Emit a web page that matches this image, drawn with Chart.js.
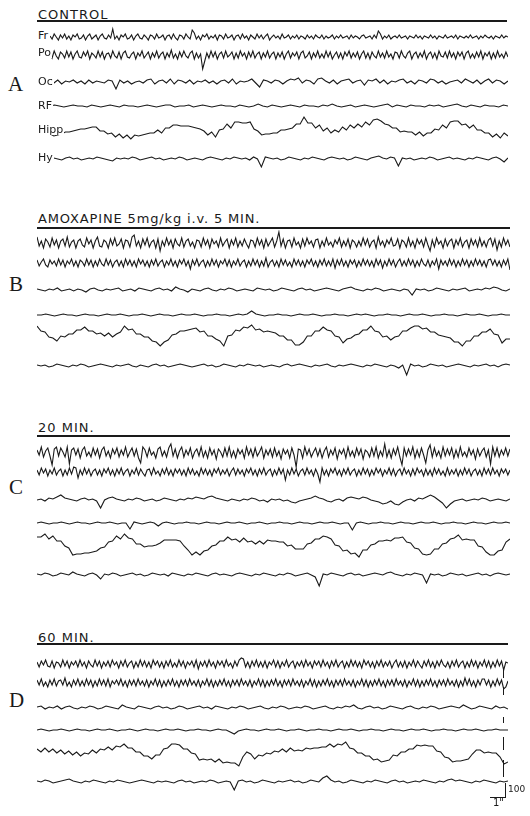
<!DOCTYPE html>
<html>
<head>
<meta charset="utf-8">
<title>EEG - amoxapine</title>
<script src="https://cdn.jsdelivr.net/npm/chart.js@4.4.0/dist/chart.umd.min.js"></script>
<style>
  body { margin: 0; background: #fff; width: 530px; height: 816px; position: relative; overflow: hidden;
         font-family: "DejaVu Sans", sans-serif; color: #1a1a1a; }
  .abs { position: absolute; }
  canvas { position: absolute; }
  .title { font-size: 13px; line-height: 13px; letter-spacing: 1px; white-space: nowrap; }
  .rule { height: 2px; background: #1a1a1a; }
  .panel { font-family: "Liberation Serif", serif; font-size: 21px; line-height: 21px; }
  .lead { font-size: 11px; line-height: 11px; background: #fff; padding-right: 1px; z-index: 2; }
  .tick { background: #1a1a1a; width: 1.3px; }
</style>
</head>
<body>

<div class="abs title" style="left:38px;top:7.5px">CONTROL</div>
<div class="abs rule" style="left:37px;top:20px;width:470px"></div>
<div class="abs title" style="left:38px;top:211.5px;letter-spacing:0.85px">AMOXAPINE 5mg/kg i.v. 5 MIN.</div>
<div class="abs rule" style="left:37px;top:227px;width:473px"></div>
<div class="abs title" style="left:38px;top:420.5px">20 MIN.</div>
<div class="abs rule" style="left:37px;top:435px;width:473px"></div>
<div class="abs title" style="left:38px;top:630.5px">60 MIN.</div>
<div class="abs rule" style="left:37px;top:643px;width:471px"></div>

<div class="abs panel" style="left:8px;top:74px">A</div>
<div class="abs panel" style="left:9px;top:274px">B</div>
<div class="abs panel" style="left:9px;top:477px">C</div>
<div class="abs panel" style="left:9px;top:690px">D</div>

<div class="abs lead" style="left:38px;top:30px">Fr</div>
<div class="abs lead" style="left:38px;top:47px">Po</div>
<div class="abs lead" style="left:38px;top:76px">Oc</div>
<div class="abs lead" style="left:38px;top:100px">RF</div>
<div class="abs lead" style="left:38px;top:124px">Hipp</div>
<div class="abs lead" style="left:38px;top:152px">Hy</div>

<canvas id="panelA" width="458" height="150" style="left:50px;top:25px"></canvas>
<canvas id="panelB" width="473" height="150" style="left:37px;top:230px"></canvas>
<canvas id="panelC" width="473" height="150" style="left:37px;top:438px"></canvas>
<canvas id="panelD" width="471" height="145" style="left:37px;top:648px"></canvas>

<!-- calibration -->
<div class="abs tick" style="left:503px;top:668px;height:10px"></div>
<div class="abs tick" style="left:503px;top:687px;height:8px"></div>
<div class="abs tick" style="left:503px;top:717px;height:6px"></div>
<div class="abs tick" style="left:503px;top:737px;height:13px"></div>
<div class="abs tick" style="left:503px;top:760px;height:17px"></div>
<div class="abs tick" style="left:505px;top:783px;height:14px"></div>
<div class="abs" style="left:490px;top:797px;width:16px;height:1.2px;background:#1a1a1a"></div>
<div class="abs" style="left:508px;top:785px;font-size:9px;line-height:9px">100</div>
<div class="abs" style="left:493px;top:798px;font-size:10px;line-height:10px">1"</div>

<script>
// ----- traces (amplitude, up = positive) -----
// A: control
const aFr = [1,-2,3,0,-3,2,-1,3,-2,1, -3,2,0,3,-2,-1,2,-3,1,3, -2,0,2,-3,1,3,-1,-2,2,-1, 8,-2,1,-3,2,0,3,-2,-1,2,
  -3,1,3,-1,-2,2,0,-3,2,1, -2,3,-1,0,2,-3,1,2,-2,3, -1,-3,2,1,-2,3,0,-2,7,4, -2,1,-3,2,0,3,-2,1,-1,2,
  -3,2,1,-2,3,-1,0,2,-3,1, 2,-2,3,-1,1,-3,2,0,-2,3, -1,2,-2,1,3,-3,0,2,-1,1, -2,3,-1,0,2,-2,1,-1,2,-2,
  1,0,-2,2,-1,1,-2,2,0,-1, 2,-2,1,-1,0,2,-2,1,-1,2, -1,0,1,-2,2,-1,1,0,-2,1, 2,-1,0,1,-2,2,-1,6,3,-2,
  1,-1,2,-2,0,1,-1,2,-1,0, 1,-2,1,0,-1,2,-1,1,-2,1, 0,-1,2,-1,1,-2,1,0,-1,2, -1,0,1,-1,2,-2,1,0,-1,1,
  -1,2,-1,0,1,-2,1,-1,2,0, -1,1,-2,1,0,-1,2,-1,1,0];
const aPo = [2,-3,4,-1,-4,3,1,-3,4,-2, 3,-4,1,4,-2,-3,3,-1,4,-4, 2,0,-3,4,-2,3,-4,1,2,-3, 4,-1,-3,3,-4,2,4,-2,-3,1,
  3,-4,2,-1,4,-3,0,3,-4,2, -2,4,-3,1,3,-4,2,-2,5,-3, 1,-4,3,-2,4,-1,-3,2,4,-4, 2,-3,1,-14,-6,2,-3,4,-2,3,
  -4,1,3,-3,4,-2,0,3,-4,2, -3,4,-1,2,-4,3,-2,4,-3,1, 3,-4,2,-2,4,-3,1,3,-4,2, -2,3,-4,1,4,-3,2,-1,3,-4,
  2,4,-3,-1,3,-4,2,-2,4,-3, 1,-3,4,-2,3,-4,0,3,-3,2, -4,3,-1,4,-3,2,-2,3,-4,1, 4,-3,2,-4,3,-1,-3,4,-2,2,
  -3,4,-2,1,-4,3,2,-3,4,-1, -3,2,4,-4,1,3,-3,2,-2,4, -4,1,3,-3,2,-4,4,-1,-2,3, -3,4,-2,2,-4,3,-1,3,-4,2,
  4,-3,1,-3,3,-2,4,-4,2,-1, 3,-4,2,-3,4,-2,1,-3,3,-2];
const aOc = [1,-1,2,-2,1,0,2,-1,1,-2,2,-1,1,0,-1,2,1,-7,2,-1,1,-2,0,1,-1,2,3,-2,1,2,-1,3,-2,2,1,-1,2,-2,1,0,2,-1,1,-2,1,2,-1,3,-2,1,0,1,3,-1,-5,2,1,-1,2,1,-2,1,3,2,4,-1,2,1,-2,3,4,1,-1,2,-2,1,2,3,-1,1,2,-3,2,1,3,-1,2,-2,1,0,2,3,-1,1,-2,2,1,-1,3,2,-1,1,-2,0,1,2,-1,3,1,-1,2,-2,1,3,-1,2,1,-2,1];
const aRf = [0,1,0,-1,0,1,0,0,-1,1,0,-1,0,1,0,-1,1,0,0,-1,0,1,0,-1,0,1,1,-1,0,0,1,-1,0,1,0,-1,0,1,0,0,-1,1,0,-1,0,2,0,-1,1,0,-1,0,1,0,-1,1,0,0,-1,1,0,2,0,-1,0,1,-1,0,1,0,-1,0,1,2,-1,1,0,-1,1,0,0,-1,1,0,1,-1,0,1,2,0,-1,1,0,-1,1,0,0,-1,1,0];
const aHipp = [-4,-6,-5,-4,-2,-2,-1,0,1,1,2,3,3,-1,-1,-4,-3,-7,-4,-8,-5,-9,-5,-6,-5,-4,-3,-3,0,-3,2,2,5,5,4,4,4,3,2,1,-1,-5,-2,-7,0,1,6,2,8,8,7,7,8,1,-1,-5,-4,-4,-3,-3,0,0,1,2,6,6,13,7,7,2,5,-1,2,-3,0,-2,3,0,5,2,6,3,8,5,10,11,9,6,5,2,2,-2,-1,-2,-2,-5,-2,-6,-3,-3,1,0,5,2,8,9,9,5,6,2,5,0,0,-3,-3,-7,-4,-8,-3,-6];
const aHy = [0,1,0,-1,1,2,0,1,-1,0,1,0,2,1,0,-1,-2,1,0,1,0,2,1,-1,0,1,2,0,1,-1,0,1,0,2,1,-1,0,1,0,-1,1,2,1,0,-1,1,0,2,1,0,1,-1,2,0,-8,2,1,0,1,-1,0,2,1,0,-1,1,0,2,1,0,-1,1,2,1,0,1,-1,0,2,1,0,-1,1,2,3,1,0,2,1,-7,1,0,1,-1,0,1,0,2,1,-1,0,1,2,0,1,0,-1,1,0,2,1,0,-1,1,2,0,-3,1];

// B: amoxapine 5 mg/kg i.v., 5 min
const bFr = [6,-3,2,-5,4,1,-4,5,-2,3, -5,2,4,-3,6,-4,1,3,-5,2, 4,-2,-4,5,-1,3,-5,2,6,-3, -4,3,1,-5,4,-2,5,-3,-1,4,
  -5,3,2,-4,6,8,-3,2,-5,4, -2,5,-4,1,3,-5,4,-8,2,-3, 5,-2,3,-5,4,-1,-3,5,-4,2, 4,-3,1,-5,3,2,-4,5,-2,3,
  -5,4,-1,2,-4,5,-3,1,4,-5, 3,-2,5,-4,2,-3,4,-1,-5,3, 2,-4,5,-2,3,-5,4,-3,1,5, -4,2,11,-3,4,-5,2,3,-4,5,
  -2,1,-5,4,-3,5,-1,2,-4,3, 4,-5,2,-3,5,-2,1,-4,3,-1, 5,-4,2,-3,4,-5,3,1,-4,2, -3,5,-2,4,-4,1,3,-5,6,-2,
  2,-4,3,-1,5,-3,-2,4,-5,3, 1,-4,5,-3,2,-5,4,-1,3,-4, 5,-2,-8,3,-4,5,-1,2,-5,4, -3,2,4,-5,3,-2,5,-4,1,3,
  -5,4,-2,3,-4,5,-3,2,-4,3, 5,-3,4,-7,2,-4,5,-2,3,-4];
const bPo = [3,-3,1,4,-2,-4,3,-1,2,-3, 4,-2,3,-4,2,-1,4,-3,2,-4, 3,1,-3,4,-2,3,-4,2,-3,4, -1,-3,4,-2,3,-4,1,3,-3,2,
  -4,4,-2,3,-3,2,-4,4,-1,3, -3,2,-4,3,-2,4,-3,1,3,-4, 2,-2,4,-3,2,-4,3,-1,4,-3, 2,-6,3,-2,4,-3,1,3,-4,2,
  -3,4,-2,3,-4,2,-1,4,-3,3, -4,2,-2,4,-3,1,3,-4,2,-3, 4,-2,3,-4,2,-3,5,-4,1,3, -3,2,-4,4,-2,3,-3,1,-4,4,
  -2,3,-3,2,-4,3,-1,4,-3,2, -4,3,-2,4,-3,2,-3,4,-5,3, -2,4,-3,2,-4,3,-1,3,-4,2, -3,4,-2,3,-3,2,-4,4,-2,3,
  -5,2,-3,4,-2,3,-4,1,4,-3, 2,-3,4,-2,3,-4,2,-3,4,-1, -3,3,-4,2,-2,4,-6,3,-2,2, -3,4,-2,3,-4,2,-3,4,-2,3,
  -4,2,-3,4,-2,3,-3,2,-4,3, 4,-2,3,-3,2,-4,3,-2,4,-7];
const bOc = [1,0,-1,1,0,2,-1,0,1,-1,1,0,-2,1,2,0,-1,1,0,1,2,-1,0,1,-1,2,1,0,-1,1,2,0,1,-1,3,1,0,-2,1,0,-1,1,2,0,-1,1,0,2,1,-1,0,1,0,-1,2,1,0,1,-1,0,2,1,0,-1,1,2,0,1,-1,0,1,2,1,0,-1,1,2,3,1,0,-1,1,0,2,1,-1,0,1,0,-1,1,0,-5,1,0,1,-1,0,2,1,0,-1,1,0,1,2,-1,0,1,0,2,1,3,2,0,-1,1];
const bRf = [0,0,1,0,-1,0,1,0,0,-1,0,1,0,0,-1,0,1,0,0,1,0,-1,0,0,1,0,-1,0,1,0,0,-1,0,1,0,0,1,0,-1,0,0,1,0,0,-1,0,1,0,1,4,1,0,-1,0,0,1,0,0,-1,0,1,0,0,1,0,-1,0,0,1,0,0,-1,0,1,0,1,0,-1,0,0,1,0,0,-1,0,1,0,0,1,0,-1,0,0,1,0,0,-1,0,1,0,0,1,0,-1,0,0,1,0,0];
const bHipp = [8,3,2,-3,-4,-7,-2,-3,0,0,4,4,7,3,3,0,1,-2,1,-3,0,2,8,4,5,0,0,-3,-3,-7,-8,-12,-8,-6,-1,0,3,3,4,5,6,2,3,-2,-2,-5,-7,-12,-2,-1,4,3,7,6,9,4,5,2,3,2,1,-2,-2,-6,-6,-11,-11,-8,-2,-2,3,3,7,4,3,-2,-3,-9,-5,-4,-1,0,4,4,8,3,2,-3,-2,-6,-3,-2,3,3,6,8,8,5,6,2,2,-1,-2,-3,-4,-8,-8,-12,-7,-7,-2,-2,2,2,5,0,-1,-9,-5,-5];
const bHy = [1,0,1,-1,0,2,1,0,-1,1,0,2,1,-1,0,1,2,1,0,-1,1,0,1,2,0,-1,1,0,-1,1,2,0,1,-1,0,1,2,1,0,-1,0,1,2,0,1,-1,0,2,1,0,-1,1,0,2,1,0,1,-1,0,1,0,-1,1,2,0,1,2,1,0,-1,1,0,1,2,0,-1,1,0,1,2,1,0,-1,1,0,2,1,0,-1,1,0,-2,1,-9,2,0,1,-1,0,2,1,0,1,-1,0,1,2,1,0,-1,1,0,1,2,0,1,-1,1,2,1];

// C: 20 min
const cFr = [3,-2,6,-4,2,5,-3,-12,4,6, -3,5,1,-4,6,-11,3,5,-2,4, -5,3,6,-3,1,-4,5,-2,4,-5, 3,6,-3,2,-5,4,-1,5,-4,3,
  -2,6,-4,1,5,-3,4,-5,-10,6, 3,-4,5,-2,1,-5,4,6,-3,2, -4,5,9,-3,4,-5,2,6,-4,3, -2,5,-5,1,4,-3,6,-4,2,-5,
  5,-2,3,-6,4,1,-4,5,-3,6, -4,2,-5,4,-1,3,-5,6,-2,4, -4,5,-3,1,6,-5,3,-2,4,-4, 5,-3,2,-6,4,-1,3,-5,5,-2,
  -14,4,3,-5,6,-2,4,-4,1,5, -3,4,-5,2,6,-4,3,-2,5,-6, 3,-1,4,-5,6,-3,2,-4,5,-2, 4,-6,3,1,-4,5,-3,6,-5,2,
  -3,9,-4,3,-5,4,-2,6,-4,-12, 5,-3,4,-2,6,-5,3,-4,5,-2, -10,3,8,-4,5,-3,2,-5,6,-3, 4,-2,5,-5,3,-4,6,-3,1,-4,
  5,-2,3,-6,4,-3,2,5,-4,3, -11,6,-3,5,-4,3,-2,5,-3,4];
const cPo = [2,-3,4,-1,3,-4,2,-2,4,-3, 1,3,-4,2,-3,4,-2,5,4,-6, 2,-3,4,-2,3,-4,1,3,-3,2, -4,3,-1,4,-3,2,-4,3,-2,4,
  -3,1,3,-4,2,-2,4,-3,3,-1, -4,2,3,-3,4,-2,1,-4,3,-2, 4,-3,2,-4,3,-1,3,-3,2,-4, 4,-2,3,-3,1,-4,4,-2,3,-3,
  2,-4,3,-1,4,-3,2,-2,3,-4, 1,4,-3,3,-2,2,-4,3,-1,4, -3,2,-4,3,-2,4,-3,1,3,-4, 2,-3,4,-2,3,-8,2,-3,4,-2,
  3,-4,1,3,-3,4,-2,2,-4,3, -2,-10,4,-3,2,-4,3,-1,4,-3, 2,-4,3,-2,4,-3,1,3,-4,2, -3,4,-2,3,-4,2,-3,4,-1,3,
  -4,2,-2,4,-3,3,-4,1,3,-3, 4,-2,2,-4,3,-3,4,-1,2,-4, 3,-3,2,-4,4,-2,3,-3,1,-4, 4,-3,2,-2,3,-4,2,-3,4,-2,
  3,-4,1,3,-3,2,-4,4,-2,3, -3,4,-2,2,-4,3,-1,3,-3,2];
const cOc = [0,1,-1,2,1,3,5,2,1,0,-1,1,2,0,1,-1,-8,0,2,3,1,0,-1,1,0,2,1,-1,0,1,-1,0,2,1,0,-1,1,0,2,1,3,2,1,3,4,2,1,0,-1,1,0,-1,1,0,2,1,-1,0,-2,1,0,1,-1,0,-2,-3,-1,0,1,2,4,2,1,-1,-2,0,1,-1,2,3,2,1,3,2,0,-1,-2,-4,-3,-1,-4,-5,-2,0,1,-1,2,1,3,5,3,0,-3,-8,-4,-1,0,1,-1,0,1,0,2,1,-1,0,1,0,-1,1];
const cRf = [0,1,0,-1,0,0,1,0,-1,0,1,0,0,-1,0,1,0,0,1,0,-1,0,0,-6,1,0,-1,0,1,0,-3,0,1,0,-1,0,0,1,0,0,-1,0,1,0,0,-1,0,1,0,0,1,0,-1,0,0,1,0,-1,0,0,1,0,0,-1,0,1,0,0,-1,0,1,0,0,1,0,-1,0,0,-7,0,1,0,-1,0,0,1,0,0,-1,0,1,0,0,-1,0,1,0,0,1,0,-1,0,0,1,0,0,-1,0,1,0,0,-1,0,1,0,0,1,0];
const cHipp = [8,8,11,6,9,4,4,-1,-3,-10,-9,-9,-8,-8,-7,-6,-3,-2,3,4,9,6,11,7,6,1,1,-2,-1,-1,0,2,5,5,5,5,4,-1,-5,-10,-7,-10,-6,-5,-1,0,4,4,8,5,6,3,7,3,4,1,4,1,5,4,4,3,3,-1,0,-4,-4,-4,1,2,6,6,9,8,6,0,-1,-6,-5,-9,-8,-12,-5,-5,0,1,4,4,5,4,7,7,8,3,2,-3,-4,-9,-10,-9,-4,-4,1,2,6,7,10,5,6,5,5,-1,-2,-7,-10,-10,-6,-5,3,6];
const cHy = [1,0,2,1,-1,0,2,1,0,3,1,0,-1,1,2,0,-4,1,0,2,1,-1,0,1,2,0,1,-1,0,2,1,0,1,-1,2,1,0,-1,1,0,2,1,0,-1,1,2,0,1,0,-1,1,2,1,0,-1,1,0,2,1,0,-1,1,0,2,1,-1,0,1,2,0,-2,-11,1,0,2,1,0,-1,1,2,0,1,-1,0,1,2,1,0,2,3,1,0,-1,1,0,2,1,0,-8,1,0,1,-1,0,2,1,0,1,-1,0,1,2,0,1,-1,1,2,1,0,1];

// D: 60 min
const dFr = [2,-3,3,-1,4,-2,-3,3,-4,2, 1,-3,4,-2,3,-4,2,-1,3,-3, 4,-2,2,-4,3,-1,-3,4,-2,3, -4,2,-2,3,-3,4,-1,2,-4,3,
  -2,4,-3,1,3,-4,2,-3,4,-2, 3,-3,2,-4,4,-1,3,-3,2,-4, 3,-2,4,-3,1,-3,4,-2,3,-4, 2,-1,3,-3,4,-5,2,-2,3,-3,
  4,-2,2,-4,3,-1,3,-3,4,-2, 1,-4,3,-2,4,6,5,-3,2,-4, 3,-2,4,-3,2,-3,3,-4,2,-1, 4,-3,3,-4,2,-2,4,-3,1,3,
  -4,2,-2,3,-3,4,-2,2,-4,3, -1,3,-3,4,-2,2,-4,3,-2,4, -3,1,3,-4,2,-3,4,-2,3,-3, 2,-4,4,-1,3,-3,2,-4,3,-2,
  4,-3,2,-2,3,-4,1,4,-3,2, -3,3,-4,2,-2,4,-3,3,-1,-4, 3,-2,4,-3,2,-4,3,-2,4,-1, -3,2,-4,3,-2,4,-3,1,3,-4,
  2,-3,4,-2,3,-4,2,-2,4,-3, 3,-4,2,-3,4,-2,3,-6,2,1];
const dPo = [3,-2,4,-3,1,-4,3,-2,4,-3, 2,3,-2,5,-3,1,-4,3,-2,4, -3,2,-3,4,-2,3,-4,2,-3,4, -2,3,-3,4,-4,2,-1,3,-2,4,
  -3,2,-4,3,-2,3,-3,4,-2,2, -3,3,-4,2,-2,4,-3,3,-4,2, -3,3,-2,4,-3,2,-4,3,-2,3, -3,4,-2,2,-3,3,-4,2,-2,4,
  -3,3,-4,2,-3,3,-2,4,-3,2, -4,3,-2,3,-3,4,-2,2,-3,3, -4,2,-2,4,-3,3,-4,2,-3,3, -2,4,-3,2,-4,3,-2,3,-3,4,
  -2,2,-3,3,-4,2,-2,4,-3,3, -4,2,-3,3,-2,4,-3,2,-4,3, -2,3,-3,4,-2,2,-3,3,-4,2, -2,4,-3,3,-4,2,-3,3,-2,4,
  -3,2,-4,3,-2,3,-3,4,-2,2, -3,3,-4,2,-2,4,-3,3,-4,2, -3,3,-2,4,-3,2,-4,3,-2,3, -3,4,-2,2,-3,3,-4,2,-3,5,
  -2,4,-3,2,-4,3,-2,4,4,-2, 3,-4,2,-3,4,-2,3,-6,-4,2];
const dOc = [1,2,-1,1,0,2,-1,1,2,0,-1,1,0,2,1,-1,0,2,1,0,-1,3,1,0,-1,2,1,0,-1,1,2,0,1,-1,0,2,1,-1,0,1,2,0,1,-1,2,1,0,-1,1,0,2,1,-1,0,1,2,0,-1,1,0,2,1,-1,0,1,0,2,1,-1,0,1,2,0,-1,1,0,2,1,3,0,-1,1,2,0,1,-1,0,2,1,0,-1,1,2,0,-1,1,0,2,1,-1,0,1,2,1,0,3,1,-1,0,2,1,0,-1,2,0,1,-1];
const dRf = [0,1,0,-1,0,0,1,0,-1,0,1,0,0,-1,0,1,0,0,1,0,-1,0,0,1,0,-1,0,1,0,0,-1,0,1,0,0,1,0,-1,0,0,1,0,0,-1,0,1,0,0,-2,-4,-1,0,1,0,0,-1,0,1,0,0,1,0,-1,0,0,1,0,-1,0,0,1,0,0,-1,0,1,0,0,1,0,-1,0,0,1,0,0,-1,0,1,0,0,-1,0,1,0,0,1,0,-1,0,0,1,0,0,-1,0,1,0,0,1,0,-1,0,0,1,0,0,0];
const dHipp = [3,0,4,0,3,-1,2,-2,1,-3,0,-4,-1,-2,2,-1,3,2,5,2,6,5,8,4,4,0,0,-4,-4,-7,-3,-3,3,4,8,8,7,3,3,-1,-2,-8,-7,-8,-7,-10,-7,-11,-10,-11,-11,-14,-5,0,-2,-7,-3,-4,-1,-2,1,0,3,0,4,1,2,1,4,3,4,4,5,5,8,5,8,7,10,4,3,-1,-1,-4,-4,-8,-7,-10,-9,-8,-3,-4,0,0,3,3,7,6,7,6,6,1,0,-5,-6,-10,-9,-9,-8,-7,-2,2,2,-1,0,-1,-1,-5,-12,-10];
const dHy = [1,0,2,1,-1,0,1,2,3,1,0,-1,1,0,2,1,0,-1,1,0,2,1,0,-1,0,1,2,1,0,-1,1,0,1,0,-1,1,2,0,1,-1,0,1,0,2,1,-1,0,1,0,-8,1,2,0,1,-1,0,2,1,0,-1,1,0,1,2,0,1,-1,0,2,1,0,4,6,2,0,1,-1,0,2,1,0,-1,1,0,2,1,0,-1,1,2,0,1,-1,0,1,0,2,1,0,-1,1,0,2,3,1,2,1,0,-1,1,0,2,1,0,-1,1,0,1];

// ----- layout: baseline of each channel (page y) -----
const INK = "#1a1a1a";
const panels = [
  { id: "panelA", top: 25,  height: 150, bases: [37, 55, 82, 106, 130, 159], traces: [aFr, aPo, aOc, aRf, aHipp, aHy] },
  { id: "panelB", top: 230, height: 150, bases: [243, 263, 290, 315, 334, 366], traces: [bFr, bPo, bOc, bRf, bHipp, bHy] },
  { id: "panelC", top: 438, height: 150, bases: [453, 472, 500, 523, 545, 575], traces: [cFr, cPo, cOc, cRf, cHipp, cHy] },
  { id: "panelD", top: 648, height: 145, bases: [664, 683, 708, 730, 752, 782], traces: [dFr, dPo, dOc, dRf, dHipp, dHy] }
];

panels.forEach(p => {
  new Chart(document.getElementById(p.id), {
    type: "line",
    data: {
      datasets: p.traces.map((t, k) => ({
        data: t.map((v, i) => ({ x: i / (t.length - 1), y: p.bases[k] - v })),
        borderColor: INK,
        borderWidth: 1.1,
        pointRadius: 0,
        tension: 0,
        fill: false
      }))
    },
    options: {
      responsive: false,
      animation: false,
      events: [],
      layout: { padding: 0 },
      plugins: { legend: { display: false }, tooltip: { enabled: false } },
      scales: {
        x: { type: "linear", display: false, min: 0, max: 1 },
        y: { type: "linear", display: false, min: p.top, max: p.top + p.height, reverse: true }
      }
    }
  });
});
</script>
</body>
</html>
